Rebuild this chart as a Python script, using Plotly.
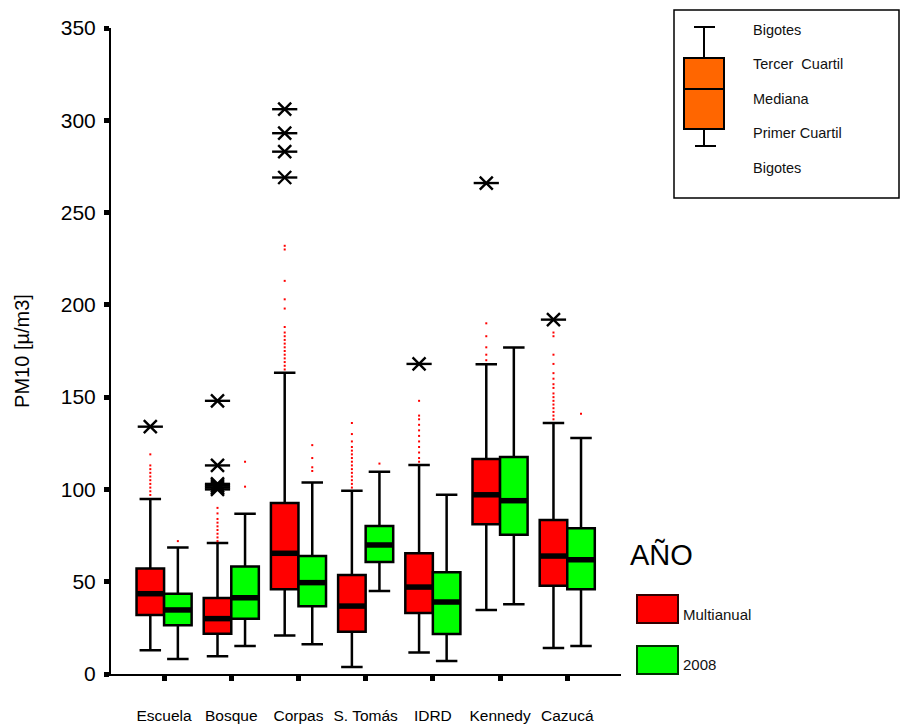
import plotly.graph_objects as go

# ---------------- data ----------------
stations = ["Escuela", "Bosque", "Corpas", "S. Tomás", "IDRD", "Kennedy", "Cazucá"]

multi_low = [12.8, 9.6, 20.8, 3.8, 11.6, 34.7, 14.1]
multi_q1 = [32.0, 21.8, 45.9, 22.9, 33.0, 81.1, 47.8]
multi_med = [43.5, 30.0, 65.4, 36.8, 47.1, 97.1, 63.9]
multi_q3 = [57.2, 41.2, 92.6, 53.6, 65.4, 116.5, 83.4]
multi_high = [94.8, 71.0, 163.2, 99.3, 113.2, 167.8, 136.0]

y2008_low = [8.1, 15.2, 16.1, 45.0, 7.0, 37.8, 15.2]
y2008_q1 = [26.4, 30.0, 36.7, 60.7, 21.7, 75.5, 45.9]
y2008_med = [34.7, 41.3, 49.5, 69.9, 39.0, 93.9, 61.9]
y2008_q3 = [43.5, 58.3, 63.9, 80.2, 55.1, 117.6, 78.9]
y2008_high = [68.6, 86.8, 103.8, 109.6, 97.1, 176.9, 127.8]

# extreme values (asterisks), Multianual series
multi_extremes = [
    [134],
    [148, 113, 103, 102, 101, 100],
    [306, 293, 283, 269],
    [],
    [168],
    [266],
    [192],
]
y2008_extremes = [[], [], [], [], [], [], []]

# outliers (small red dots)
multi_outliers = [
    [97, 99, 101, 103, 105, 107, 109, 111, 113, 119],
    [72, 74, 76, 78, 80, 82, 84, 87, 90],
    [232, 230, 213, 203, 198, 188, 185, 183, 181, 179, 177, 175, 173, 171, 169, 167, 165],
    [101, 103, 105, 107, 109, 111, 113, 115, 117, 119, 121, 123, 126, 130, 136],
    [148, 140, 138, 135, 132, 129, 126, 123, 120, 117, 115],
    [190, 183, 177, 173, 170],
    [185, 183, 173, 168, 163, 160, 157, 155, 152, 150, 148, 146, 144, 142, 140, 138],
]
y2008_outliers = [
    [72],
    [101.5, 115],
    [124, 117, 112, 110],
    [114],
    [],
    [],
    [141],
]

y_ticks = [0, 50, 100, 150, 200, 250, 300, 350]
legend_box_labels = ["Bigotes", "Tercer  Cuartil", "Mediana", "Primer Cuartil", "Bigotes"]
legend_title = "AÑO"
series_names = ["Multianual", "2008"]

# ---------------- styling / layout ----------------
W, H = 900, 724
L, R, T, B = 111, 621, 28, 674
BOX_W = 0.41
OFF = 0.205
FONT = "Liberation Sans, Arial, sans-serif"

def px(xp):
    return (xp - L) / (R - L)

def py(yp):
    return (B - yp) / (B - T)

fig = go.Figure()

series = [
    dict(name=series_names[0], low=multi_low, q1=multi_q1, med=multi_med, q3=multi_q3,
         high=multi_high, ext=multi_extremes, outl=multi_outliers, off=-OFF, fill="#FF0000"),
    dict(name=series_names[1], low=y2008_low, q1=y2008_q1, med=y2008_med, q3=y2008_q3,
         high=y2008_high, ext=y2008_extremes, outl=y2008_outliers, off=OFF, fill="#00FF00"),
]

for s in series:
    pos = [i + s["off"] for i in range(len(stations))]
    fig.add_trace(go.Box(
        x=pos, q1=s["q1"], median=s["med"], q3=s["q3"],
        lowerfence=s["low"], upperfence=s["high"],
        width=BOX_W, whiskerwidth=0.78,
        fillcolor=s["fill"], line=dict(color="black", width=2.5),
        boxpoints=False, name=s["name"], showlegend=False, hoverinfo="skip",
    ))

for s in series:
    pos = [i + s["off"] for i in range(len(stations))]
    mx, my = [], []
    for p, m in zip(pos, s["med"]):
        mx += [p - BOX_W / 2, p + BOX_W / 2, None]
        my += [m, m, None]
    fig.add_trace(go.Scatter(x=mx, y=my, mode="lines", line=dict(color="black", width=5.5),
                             showlegend=False, hoverinfo="skip"))
    # outlier dots
    ox, oy = [], []
    for p, vals in zip(pos, s["outl"]):
        ox += [p] * len(vals)
        oy += vals
    fig.add_trace(go.Scatter(x=ox, y=oy, mode="markers",
                             marker=dict(symbol="square", size=2, color="#FF0000", line=dict(width=0)),
                             showlegend=False, hoverinfo="skip"))
    # extremes: asterisk built from x + horizontal line
    ex, ey = [], []
    for p, vals in zip(pos, s["ext"]):
        ex += [p] * len(vals)
        ey += vals
    for sym, size in (("x-thin-open", 13), ("line-ew-open", 18)):
        fig.add_trace(go.Scatter(x=ex, y=ey, mode="markers",
                                 marker=dict(symbol=sym, size=size, color="black",
                                             line=dict(color="black", width=2.4)),
                                 showlegend=False, hoverinfo="skip", cliponaxis=False))

# ---------------- legend (box explanation) ----------------
shapes = []
ann = []
shapes.append(dict(type="rect", xref="paper", yref="paper", x0=px(674), x1=px(899), y0=py(198), y1=py(10),
                   line=dict(color="black", width=1.5), fillcolor="rgba(0,0,0,0)"))
# sample box
shapes.append(dict(type="line", xref="paper", yref="paper", x0=px(704), x1=px(704), y0=py(58), y1=py(27),
                   line=dict(color="black", width=2)))
shapes.append(dict(type="line", xref="paper", yref="paper", x0=px(704), x1=px(704), y0=py(146), y1=py(129),
                   line=dict(color="black", width=2)))
shapes.append(dict(type="line", xref="paper", yref="paper", x0=px(694), x1=px(715), y0=py(27), y1=py(27),
                   line=dict(color="black", width=2)))
shapes.append(dict(type="line", xref="paper", yref="paper", x0=px(695), x1=px(716), y0=py(146), y1=py(146),
                   line=dict(color="black", width=2)))
shapes.append(dict(type="rect", xref="paper", yref="paper", x0=px(684), x1=px(724), y0=py(129), y1=py(58),
                   line=dict(color="black", width=2), fillcolor="#FF6600"))
shapes.append(dict(type="line", xref="paper", yref="paper", x0=px(684), x1=px(724), y0=py(89), y1=py(89),
                   line=dict(color="black", width=2)))
for lbl, yy in zip(legend_box_labels, [30, 64, 99, 133, 168]):
    ann.append(dict(text=lbl, xref="paper", yref="paper", x=px(751), y=py(yy), xanchor="left",
                    yanchor="middle", showarrow=False, font=dict(family=FONT, size=14.5, color="#111")))

# AÑO legend
ann.append(dict(text=legend_title, xref="paper", yref="paper", x=px(628), y=py(554), xanchor="left",
                yanchor="middle", showarrow=False, font=dict(family=FONT, size=29, color="black")))
for name, fill, edge, y0, y1, yl in ((series_names[0], "#FF0000", "#300000", 595, 623, 614),
                                     (series_names[1], "#00FF00", "#003000", 646, 674, 664)):
    shapes.append(dict(type="rect", xref="paper", yref="paper", x0=px(637), x1=px(678), y0=py(y1), y1=py(y0),
                       line=dict(color=edge, width=2), fillcolor=fill))
    ann.append(dict(text=name, xref="paper", yref="paper", x=px(681), y=py(yl), xanchor="left",
                    yanchor="middle", showarrow=False, font=dict(family=FONT, size=15, color="#111")))

fig.update_layout(
    width=W, height=H,
    margin=dict(l=L, r=W - R, t=T, b=H - B, pad=0, autoexpand=False),
    plot_bgcolor="white", paper_bgcolor="white",
    showlegend=False,
    shapes=shapes, annotations=ann,
    font=dict(family=FONT, color="black"),
)
fig.update_xaxes(
    range=[-0.79, 6.8], tickmode="array", tickvals=list(range(len(stations))), ticktext=stations,
    showline=True, linecolor="black", linewidth=2, ticks="outside", ticklen=5, tickwidth=5,
    tickcolor="black", showgrid=False, zeroline=False, tickfont=dict(family=FONT, size=15.5),
    ticklabelstandoff=21, automargin=False,
)
fig.update_yaxes(
    range=[0, 350], tickmode="array", tickvals=y_ticks,
    showline=True, linecolor="black", linewidth=2, ticks="outside", ticklen=5, tickwidth=5,
    tickcolor="black", showgrid=False, zeroline=False, tickfont=dict(family=FONT, size=21),
    ticklabelstandoff=4, automargin=False,
    title=dict(text="PM10 [µ/m3]", font=dict(family=FONT, size=20), standoff=26),
)

fig.write_html(
    "out.html",
    config={"displayModeBar": False},
    post_script="document.body.style.margin='0';document.body.style.overflow='hidden';",
)
